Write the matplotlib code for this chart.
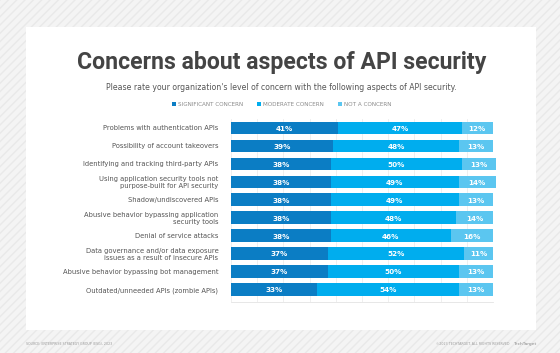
import matplotlib.pyplot as plt
from matplotlib.patches import Rectangle
import numpy as np

# data
aspects = [
    "Problems with authentication APIs",
    "Possibility of account takeovers",
    "Identifying and tracking third-party APIs",
    "Using application security tools not\npurpose-built for API security",
    "Shadow/undiscovered APIs",
    "Abusive behavior bypassing application\nsecurity tools",
    "Denial of service attacks",
    "Data governance and/or data exposure\nissues as a result of insecure APIs",
    "Abusive behavior bypassing bot management",
    "Outdated/unneeded APIs (zombie APIs)",
]
significant = [41, 39, 38, 38, 38, 38, 38, 37, 37, 33]
moderate = [47, 48, 50, 49, 49, 48, 46, 52, 50, 54]
not_concern = [12, 13, 13, 14, 13, 14, 16, 11, 13, 13]
series_names = ["SIGNIFICANT CONCERN", "MODERATE CONCERN", "NOT A CONCERN"]
colors = ["#0b7dc4", "#00adee", "#5bc6f0"]

W, H = 560, 353
fig = plt.figure(figsize=(W / 100, H / 100), dpi=100)
fig.patch.set_facecolor("#f4f4f4")

# hatched backdrop + white card
bg = Rectangle((0, 0), 1, 1, transform=fig.transFigure, facecolor="#f4f4f4",
               edgecolor="#e9e9e9", hatch="////", linewidth=0, zorder=-10)
fig.patches.append(bg)
card = Rectangle((26 / W, 1 - 330 / H), 510 / W, 303 / H, transform=fig.transFigure,
                 facecolor="white", edgecolor="none", zorder=-5)
fig.patches.append(card)

ax = fig.add_axes([231 / W, 1 - 302 / H, 262 / W, 183 / H])
ax.set_facecolor("none")

y = np.arange(len(aspects))
left = np.zeros(len(aspects))
for vals, name, col in zip([significant, moderate, not_concern], series_names, colors):
    vals = np.array(vals)
    bars = ax.barh(y, vals, left=left, height=0.72, color=col, label=name, zorder=2,
                   clip_on=False)
    for b, v in zip(bars, vals):
        ax.text(b.get_x() + b.get_width() / 2, b.get_y() + b.get_height() / 2 + 0.03,
                f"{v}%", ha="center", va="center", color="white",
                fontsize=5.2, fontweight="bold", zorder=3)
    left += vals

ax.set_xlim(0, 100)
ax.set_ylim(len(aspects) - 0.5 + 0.17, -0.5)
ax.set_xticks(np.arange(0, 101, 10))
ax.xaxis.grid(True, color="#ececec", linewidth=0.6, zorder=0)
ax.tick_params(axis="x", length=0, labelbottom=False)
ax.set_yticks(y)
ax.set_yticklabels(aspects, fontsize=4.9, color="#555555", linespacing=1.1)
ax.tick_params(axis="y", length=0, pad=9)
for s in ["top", "right", "left"]:
    ax.spines[s].set_visible(False)
ax.spines["bottom"].set_color("#e3e3e3")
ax.spines["bottom"].set_linewidth(0.6)

fig.text(0.503, 1 - 63 / H, "Concerns about aspects of API security", ha="center", va="center",
         fontsize=16.6, fontweight="bold", color="#444444", family="Roboto")
fig.text(0.503, 1 - 87 / H,
         "Please rate your organization's level of concern with the following aspects of API security.",
         ha="center", va="center", fontsize=5.6, color="#555555")

leg = fig.legend(loc="center", bbox_to_anchor=(0.503, 1 - 104 / H), ncol=3, frameon=False,
                 handlelength=0.7, handleheight=0.7, handletextpad=0.4, columnspacing=2.4,
                 fontsize=4.1)
for t in leg.get_texts():
    t.set_color("#8a8a8a")

fig.text(26 / W, 1 - 344 / H, "SOURCE: ENTERPRISE STRATEGY GROUP (ESG), 2023",
         fontsize=2.3, color="#9a9a9a", va="center")
fig.text(510 / W, 1 - 344 / H, "\u00a92023 TECHTARGET. ALL RIGHTS RESERVED",
         fontsize=2.3, color="#9a9a9a", va="center", ha="right")
fig.text(536 / W, 1 - 344 / H, "TechTarget", fontsize=3.2, color="#8a8a8a",
         va="center", ha="right")

fig.savefig("out.png", dpi=100, facecolor=fig.get_facecolor())
